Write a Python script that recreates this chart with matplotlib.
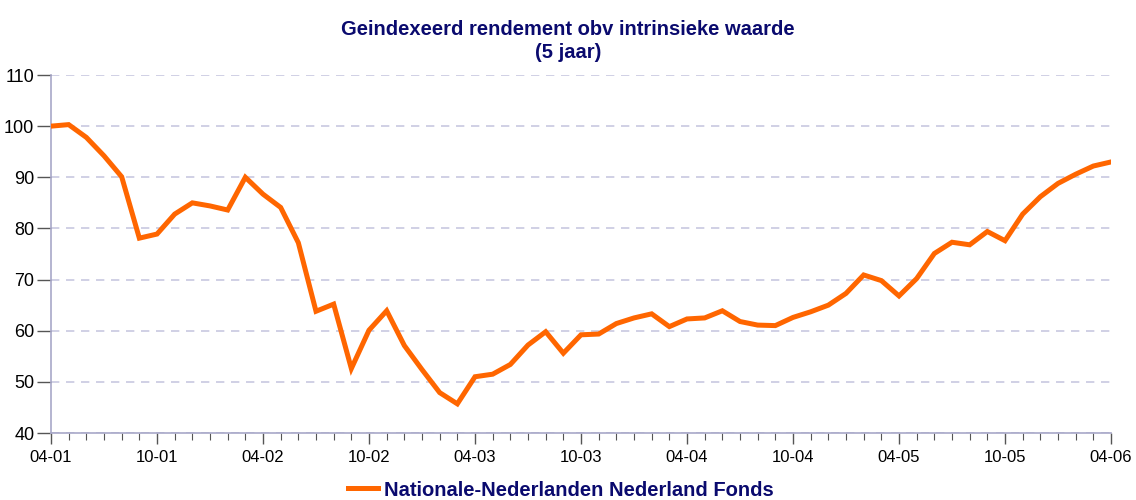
import matplotlib
matplotlib.use("Agg")
import matplotlib.pyplot as plt
from matplotlib.ticker import MultipleLocator, FixedLocator
import numpy as np

plt.rcParams['font.family'] = ['Liberation Sans', 'DejaVu Sans']

title = "Geindexeerd rendement obv intrinsieke waarde\n(5 jaar)"
series_name = "Nationale-Nederlanden Nederland Fonds"
tick_labels = ["04-01", "10-01", "04-02", "10-02", "04-03", "10-03",
               "04-04", "10-04", "04-05", "10-05", "04-06"]
values = [100.0, 100.3, 97.8, 94.2, 90.1, 78.1, 78.9, 82.8, 85.0, 84.4,
          83.6, 90.0, 86.7, 84.1, 77.2, 63.8, 65.2, 52.6, 60.1, 63.9,
          57.1, 52.4, 47.9, 45.7, 51.0, 51.5, 53.4, 57.2, 59.8, 55.6,
          59.2, 59.35, 61.4, 62.5, 63.3, 60.8, 62.3, 62.5, 63.9, 61.8,
          61.1, 61.0, 62.6, 63.7, 65.0, 67.3, 70.9, 69.8, 66.8, 70.2,
          75.1, 77.3, 76.8, 79.4, 77.6, 82.8, 86.2, 88.8, 90.6, 92.2,
          93.0]

navy = "#0A0A6E"
grid_col = "#C8C8E0"
axis_col = "#A8A8C8"

fig = plt.figure(figsize=(11.36, 5.0), dpi=100)
ax = fig.add_axes([0.0449, 0.134, 0.978 - 0.0449, 0.85 - 0.134])

months = np.arange(len(values))
line, = ax.plot(months, values, color="#FF6600", lw=3.6, solid_joinstyle="miter",
                label=series_name, zorder=3)

ax.set_xlim(0, len(values) - 1)
ax.set_ylim(40, 110)
ax.yaxis.set_major_locator(MultipleLocator(10))
ax.xaxis.set_major_locator(FixedLocator(np.arange(0, len(values), 6)))
ax.xaxis.set_minor_locator(FixedLocator(np.arange(0, len(values), 1)))
ax.set_xticklabels(tick_labels)

ax.grid(axis='y', linestyle=(0, (5, 4)), color=grid_col, lw=1.2, zorder=0)
for s in ['top', 'right']:
    ax.spines[s].set_visible(False)
for s in ['left', 'bottom']:
    ax.spines[s].set_color(axis_col)
    ax.spines[s].set_linewidth(1.2)

ax.tick_params(axis='y', which='major', length=10, width=1, color='#555555',
               labelsize=13, pad=2)
ax.tick_params(axis='x', which='major', length=8, width=1, color='#555555',
               labelsize=12, pad=4)
ax.tick_params(axis='x', which='minor', length=5, width=0.8, color='#555555')

fig.text(0.5, 0.918, title, ha='center', va='center', fontsize=14.5,
         fontweight='bold', color=navy, linespacing=1.25)

leg = fig.legend(handles=[line], loc='center', bbox_to_anchor=(0.494, 0.02),
                 frameon=False, handlelength=1.5, handletextpad=0.3,
                 prop={'weight': 'bold', 'size': 14.5})
for t in leg.get_texts():
    t.set_color(navy)

fig.savefig("out.png", dpi=100)
